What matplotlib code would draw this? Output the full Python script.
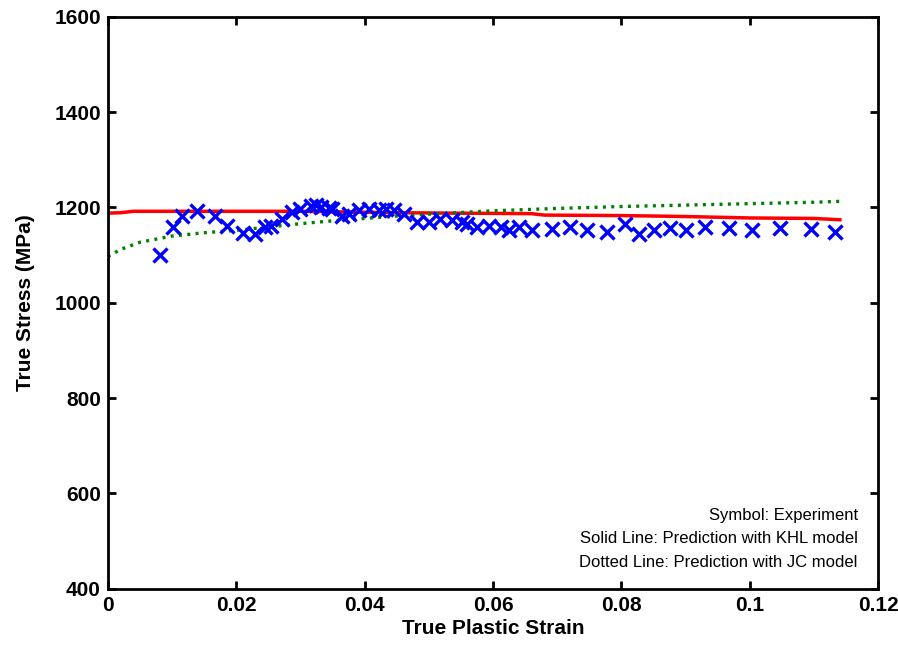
import matplotlib
matplotlib.use("Agg")
import matplotlib.pyplot as plt

# Experimental true stress-strain points
exp_strain = [0.0081, 0.0102, 0.0116, 0.0139, 0.0167, 0.0185, 0.0211, 0.0230, 0.0245,
              0.0254, 0.0272, 0.0287, 0.0300, 0.0316, 0.0324, 0.0332, 0.0344, 0.0350,
              0.0365, 0.0376, 0.0391, 0.0407, 0.0422, 0.0434, 0.0446, 0.0461, 0.0482,
              0.0500, 0.0518, 0.0536, 0.0552, 0.0560, 0.0575, 0.0593, 0.0612, 0.0625,
              0.0640, 0.0661, 0.0692, 0.0720, 0.0746, 0.0778, 0.0805, 0.0827, 0.0850,
              0.0876, 0.0900, 0.0930, 0.0968, 0.1003, 0.1047, 0.1095, 0.1133]
exp_stress = [1101, 1160, 1183, 1192, 1183, 1161, 1147, 1145, 1159,
              1162, 1176, 1190, 1197, 1204, 1206, 1201, 1199, 1197,
              1183, 1187, 1194, 1197, 1194, 1197, 1194, 1187, 1169,
              1169, 1176, 1173, 1169, 1166, 1159, 1162, 1159, 1152,
              1159, 1152, 1155, 1159, 1152, 1148, 1166, 1145, 1153,
              1157, 1153, 1159, 1157, 1152, 1157, 1154, 1148]

# KHL model prediction
khl_strain = [0.0, 0.002, 0.004, 0.010, 0.020, 0.030, 0.040, 0.045, 0.055, 0.066,
              0.068, 0.080, 0.090, 0.100, 0.110, 0.1143]
khl_stress = [1188, 1189, 1192, 1192, 1192, 1192, 1190, 1189, 1188, 1187,
              1184, 1183, 1181, 1178, 1177, 1174]

# JC model prediction
jc_strain = [0.0, 0.002, 0.005, 0.010, 0.015, 0.020, 0.025, 0.030, 0.035, 0.040,
             0.045, 0.050, 0.060, 0.070, 0.080, 0.090, 0.100, 0.110, 0.1143]
jc_stress = [1097, 1112, 1127, 1140, 1147, 1152, 1159, 1166, 1172, 1177,
             1182, 1186, 1193, 1198, 1202, 1205, 1208, 1211, 1213]

plt.rcParams['font.family'] = ['Liberation Sans', 'DejaVu Sans']

fig = plt.figure(figsize=(8.98, 6.47), dpi=100)
ax = fig.add_axes([0.120, 0.090, 0.858, 0.884])

ax.plot(khl_strain, khl_stress, color='red', lw=2.5, solid_capstyle='butt')
ax.plot(jc_strain, jc_stress, color='#008000', lw=2.4, linestyle=(0, (0.9, 1.6)))
ax.plot(exp_strain, exp_stress, linestyle='none', marker='x', color='blue',
        markersize=9.5, markeredgewidth=2.4)

ax.set_xlim(0, 0.12)
ax.set_ylim(400, 1600)
ax.set_xticks([0, 0.02, 0.04, 0.06, 0.08, 0.1, 0.12])
ax.set_xticklabels(['0', '0.02', '0.04', '0.06', '0.08', '0.1', '0.12'])
ax.set_yticks([400, 600, 800, 1000, 1200, 1400, 1600])

for s in ax.spines.values():
    s.set_linewidth(2.0)
ax.tick_params(direction='in', length=6, width=2.0, top=True, right=True,
               labelsize=15, pad=5)
for lab in ax.get_xticklabels() + ax.get_yticklabels():
    lab.set_fontweight('bold')

ax.set_xlabel('True Plastic Strain', fontsize=15, fontweight='bold', labelpad=3)
ax.set_ylabel('True Stress (MPa)', fontsize=15, fontweight='bold', labelpad=14)

notes = ['Symbol: Experiment',
         'Solid Line: Prediction with KHL model',
         'Dotted Line: Prediction with JC model']
for i, t in enumerate(notes):
    ax.text(0.1168, 554 - i * 49.5, t, ha='right', va='center', fontsize=12)

fig.savefig('out.png', dpi=100)
